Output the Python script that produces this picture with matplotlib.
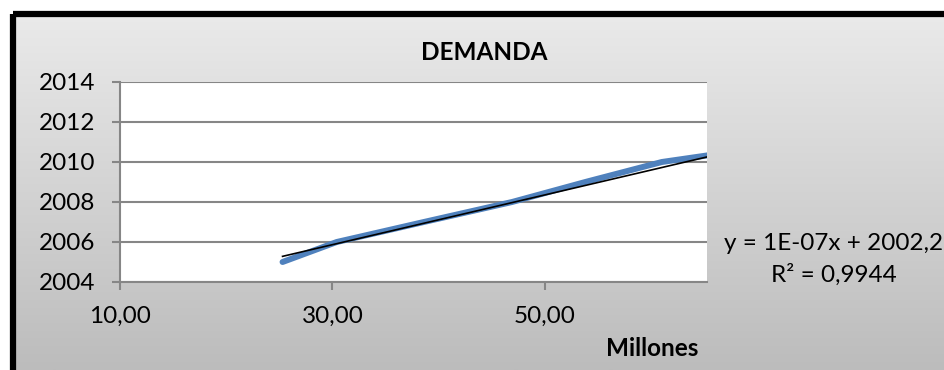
import numpy as np
import matplotlib
matplotlib.use("Agg")
import matplotlib.pyplot as plt
from matplotlib.patches import Rectangle

plt.rcParams['font.family'] = ['Lato', 'DejaVu Sans']

# demand (millions) per year
demanda_millones = [25.3, 30.4, 38.6, 46.9, 53.8, 61.0, 74.0]
anios = [2005, 2006, 2007, 2008, 2009, 2010, 2011]

x_ticks = [10, 30, 50]
x_tick_labels = ['10,00', '30,00', '50,00']
y_ticks = [2004, 2006, 2008, 2010, 2012, 2014]
titulo = 'DEMANDA'
eje_x = 'Millones'
ecuacion = 'y = 1E-07x + 2002,2'
r_cuadrado = 'R² = 0,9944'

LINE_BLUE = '#4F81BD'
GRID_GRAY = '#868686'
FONT_SIZE = 17.5

fig = plt.figure(figsize=(9.44, 3.70), dpi=100)

# chart area background: vertical gray gradient with a thick black frame
bg = fig.add_axes([0, 0, 1, 1], zorder=-10)
bg.set_xlim(0, 944)
bg.set_ylim(370, 0)
bg.axis('off')
gradient = np.linspace(0, 1, 256).reshape(-1, 1)
bg.imshow(gradient, extent=(13, 944, 370, 14), aspect='auto',
          cmap=matplotlib.colors.LinearSegmentedColormap.from_list('g', ['#EAEAEA', '#BCBCBC']))
bg.add_patch(Rectangle((13, 14), 960, 400, fill=False, edgecolor='black', linewidth=4.5))

ax = fig.add_axes([120 / 944, 1 - 282 / 370, 587 / 944, 200 / 370])
ax.set_facecolor('white')
ax.plot(demanda_millones, anios, color=LINE_BLUE, linewidth=4.3,
        solid_capstyle='round', solid_joinstyle='round', zorder=3)

# linear trendline
slope, intercept = np.polyfit(demanda_millones, anios, 1)
xs = np.array([min(demanda_millones), max(demanda_millones)])
ax.plot(xs, slope * xs + intercept, color='black', linewidth=1.2, zorder=4)

ax.set_xlim(10, 65.25)
ax.set_ylim(2004, 2014)
ax.set_xticks(x_ticks)
ax.set_xticklabels(x_tick_labels)
ax.set_yticks(y_ticks)
ax.grid(axis='y', color=GRID_GRAY, linewidth=1.5)
ax.set_axisbelow(True)
for side in ['top', 'right']:
    ax.spines[side].set_visible(False)
for side in ['left', 'bottom']:
    ax.spines[side].set_color(GRID_GRAY)
    ax.spines[side].set_linewidth(1.5)
ax.tick_params(axis='both', colors=GRID_GRAY, width=1.5, length=6,
               labelcolor='black', labelsize=FONT_SIZE)
ax.tick_params(axis='y', pad=12)
ax.tick_params(axis='x', pad=11)

fig.text(484 / 944, 1 - 52 / 370, titulo, ha='center', va='center',
         fontsize=FONT_SIZE, fontweight='bold')
fig.text(652 / 944, 1 - 348 / 370, eje_x, ha='center', va='center',
         fontsize=FONT_SIZE, fontweight='bold')
fig.text(834 / 944, 1 - 243 / 370, ecuacion, ha='center', va='center',
         fontsize=FONT_SIZE)
fig.text(834 / 944, 1 - 275 / 370, r_cuadrado, ha='center', va='center',
         fontsize=FONT_SIZE)

fig.savefig('out.png', dpi=100)
